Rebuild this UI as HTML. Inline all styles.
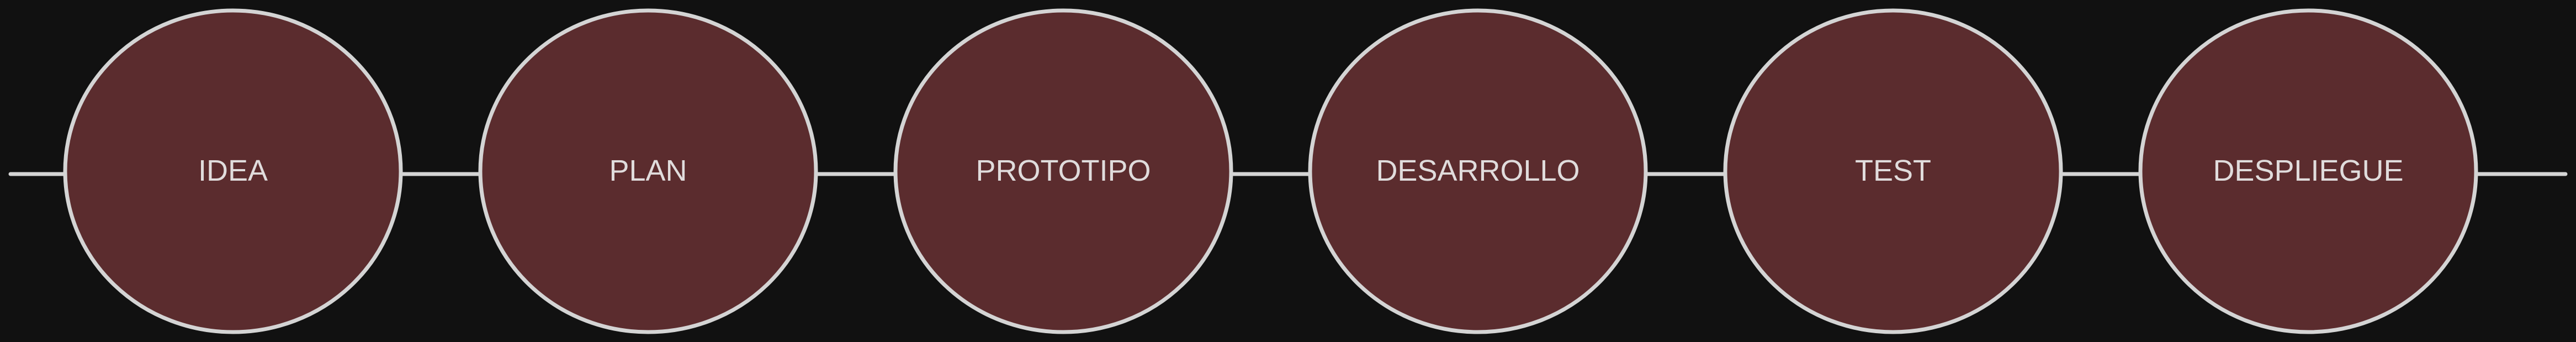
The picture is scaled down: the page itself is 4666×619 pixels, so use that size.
<!DOCTYPE html>
<html><head><style>
html,body{margin:0;padding:0;background:#111111;}
svg{display:block;}
text{font-family:"Liberation Sans",sans-serif;font-size:54px;fill:#e0dcdc;text-anchor:middle;dominant-baseline:central;}
</style></head><body>
<svg width="4666" height="619" viewBox="0 0 4666 619" xmlns="http://www.w3.org/2000/svg">
<line x1="19" y1="315" x2="4647" y2="315" stroke="#d4d4d4" stroke-width="7" stroke-linecap="round"/>
<g fill="#5b2c2e" stroke="#d4d4d4" stroke-width="7">
<ellipse cx="422" cy="310" rx="304" ry="291"/>
<ellipse cx="1174" cy="310" rx="304" ry="291"/>
<ellipse cx="1926" cy="310" rx="304" ry="291"/>
<ellipse cx="2677" cy="310" rx="304" ry="291"/>
<ellipse cx="3429" cy="310" rx="304" ry="291"/>
<ellipse cx="4181" cy="310" rx="304" ry="291"/>
</g>
<text x="422" y="309">IDEA</text>
<text x="1174" y="309">PLAN</text>
<text x="1926" y="309">PROTOTIPO</text>
<text x="2677" y="309">DESARROLLO</text>
<text x="3429" y="309">TEST</text>
<text x="4181" y="309">DESPLIEGUE</text>
</svg>
</body></html>
